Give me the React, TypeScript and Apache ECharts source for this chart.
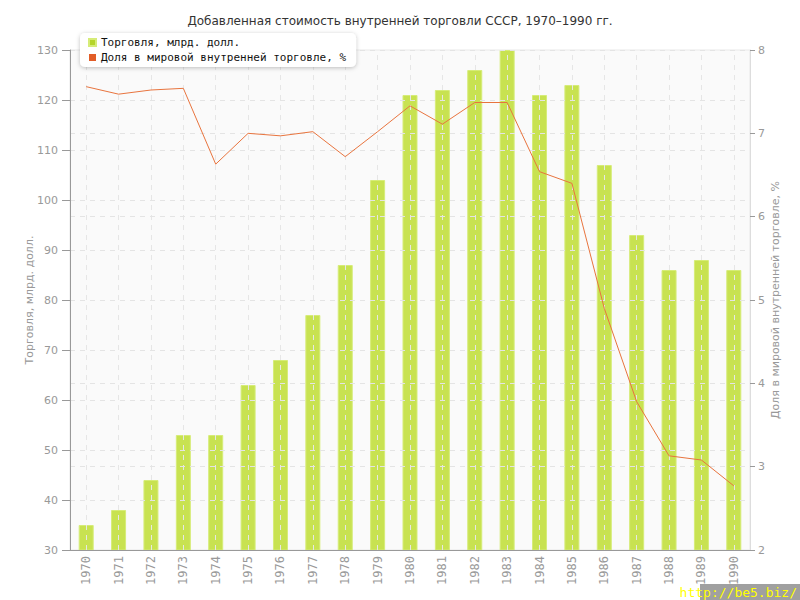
import React, { useEffect, useRef } from "react";
import * as echarts from "echarts";

const years = ["1970","1971","1972","1973","1974","1975","1976","1977","1978","1979","1980","1981","1982","1983","1984","1985","1986","1987","1988","1989","1990"];
const trade = [35, 38, 44, 53, 53, 63, 68, 77, 87, 104, 121, 122, 126, 130, 121, 123, 107, 93, 86, 88, 86];
const share = [7.56, 7.47, 7.52, 7.54, 6.63, 7.0, 6.97, 7.02, 6.72, 7.02, 7.33, 7.11, 7.37, 7.37, 6.54, 6.4, 4.9, 3.78, 3.13, 3.08, 2.77];

const title = "Добавленная стоимость внутренней торговли СССР, 1970–1990 гг.";
const tradeName = "Торговля, млрд. долл.";
const shareName = "Доля в мировой внутренней торговле, %";

export default function App() {
  const ref = useRef<HTMLDivElement>(null);
  useEffect(() => {
    const chart = echarts.init(ref.current!, null, { renderer: "svg" });
    const grid = "#e4e4e4";
    chart.setOption({
      animation: false,
      backgroundColor: "#ffffff",
      title: {
        text: title,
        left: "center",
        top: 10,
        textStyle: { fontFamily: "DejaVu Sans", fontSize: 12, fontWeight: "normal", color: "#333" },
      },
      legend: {
        orient: "vertical",
        left: 80,
        top: 33,
        z: 20,
        backgroundColor: "#ffffff",
        borderRadius: 5,
        shadowBlur: 4,
        shadowColor: "rgba(0,0,0,0.25)",
        shadowOffsetY: 1,
        padding: [4, 10, 4, 8],
        itemGap: 4,
        itemWidth: 7,
        itemHeight: 7,
        icon: "rect",
        textStyle: { fontFamily: "DejaVu Sans Mono", fontSize: 11, color: "#111" },
        data: [
          { name: tradeName, itemStyle: { color: "#b5d52a" } },
          { name: shareName, itemStyle: { color: "#e25d28" } },
        ],
      },
      grid: {
        left: 70,
        right: 50,
        top: 50,
        bottom: 50,
        show: true,
        backgroundColor: "#fafafa",
        borderColor: "#e8e8e8",
        borderWidth: 1,
      },
      xAxis: {
        type: "category",
        data: years,
        z: 3,
        boundaryGap: true,
        axisLine: { lineStyle: { color: "#999" } },
        axisTick: { alignWithLabel: true, length: 5, lineStyle: { color: "#999" } },
        axisLabel: { rotate: 90, color: "#999", fontFamily: "DejaVu Sans Mono", fontSize: 12, margin: 6 },
        splitLine: { show: false },
      },
      yAxis: [
        {
          type: "value",
          min: 30,
          max: 130,
          interval: 10,
          z: 3,
          name: tradeName,
          nameLocation: "middle",
          nameGap: 35,
          nameMoveOverlap: false,
          nameTextStyle: { color: "#999", fontFamily: "DejaVu Sans", fontSize: 11 },
          axisLine: { show: true, lineStyle: { color: "#999" } },
          axisTick: { show: true, length: 8, lineStyle: { color: "#999" } },
          axisLabel: { color: "#999", fontFamily: "DejaVu Sans", fontSize: 11, margin: 12 },
          splitLine: { show: true, lineStyle: { color: grid, type: [5, 5] } },
        },
        {
          type: "value",
          min: 2,
          max: 8,
          interval: 1,
          z: 3,
          position: "right",
          name: shareName,
          nameLocation: "middle",
          nameGap: 20,
          nameMoveOverlap: false,
          nameTextStyle: { color: "#999", fontFamily: "DejaVu Sans", fontSize: 11 },
          axisLine: { show: true, lineStyle: { color: "#ddd" } },
          axisTick: { show: true, length: 5, lineStyle: { color: "#999" } },
          axisLabel: { color: "#999", fontFamily: "DejaVu Sans", fontSize: 11, margin: 8 },
          splitLine: { show: true, lineStyle: { color: grid, type: [5, 5] } },
        },
      ],
      series: [
        {
          name: tradeName,
          type: "bar",
          data: trade,
          yAxisIndex: 0,
          barWidth: 15,
          z: 1,
          itemStyle: { color: "rgba(190,221,50,0.85)", borderColor: "#d6ec78", borderWidth: 1 },
          markLine: {
            silent: true,
            symbol: "none",
            z: 2,
            label: { show: false },
            lineStyle: { color: "#e6e6e6", type: [5, 5], width: 1 },
            data: years.map((y) => ({ xAxis: y })),
          },
        },
        {
          name: shareName,
          type: "line",
          data: share,
          yAxisIndex: 1,
          z: 6,
          showSymbol: false,
          symbol: "none",
          lineStyle: { color: "#e8743e", width: 1 },
          itemStyle: { color: "#e25d28" },
        },
      ],
      graphic: [
        {
          type: "rect",
          right: 0,
          bottom: 0,
          shape: { width: 100, height: 16 },
          style: { fill: "#a0a0a0" },
          z: 10,
        },
        {
          type: "text",
          right: 3,
          bottom: 1,
          style: { text: "http://be5.biz/", fill: "#ffff00", font: "13px 'DejaVu Sans Mono'" },
          z: 11,
        },
      ],
    });
    return () => chart.dispose();
  }, []);
  return <div ref={ref} style={{ position: "fixed", left: 0, top: 0, width: 800, height: 600 }} />;
}
